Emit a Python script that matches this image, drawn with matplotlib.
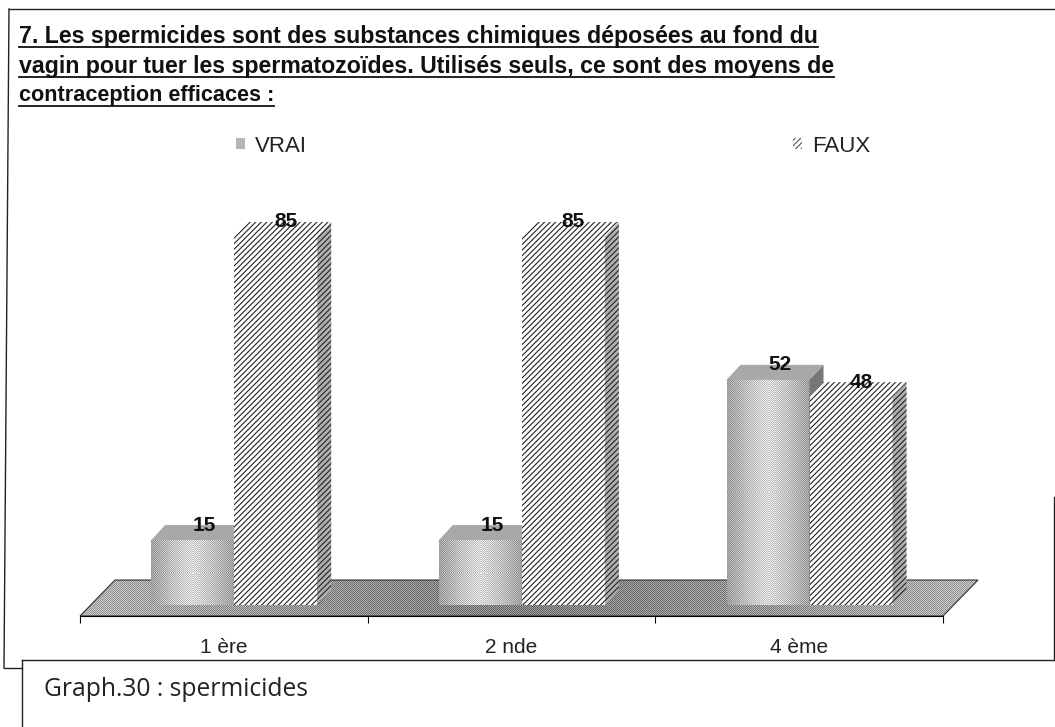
#graph 30, spermicides, fake 3d bars on a scanned page
import matplotlib
matplotlib.use("Agg")
import matplotlib.pyplot as plt
import numpy as np
from matplotlib.patches import Polygon, Patch
from matplotlib.lines import Line2D

categories = ["1 ère", "2 nde", "4 ème"]
vrai = [15, 15, 52]
faux = [85, 85, 48]
title_lines = ["7. Les spermicides sont des substances chimiques déposées au fond du",
               "vagin pour tuer les spermatozoïdes. Utilisés seuls, ce sont des moyens de",
               "contraception efficaces :"]
caption = "Graph.30 : spermicides"

W, H = 1055, 727
px_per_cat = 287.7
px_per_val = 4.33
plt.rcParams['font.family'] = ['Liberation Sans', 'DejaVu Sans']
plt.rcParams['hatch.linewidth'] = 0.8

# depth of the 3d look, converted to data units
dx = 14 / px_per_cat
dy = 15 / px_per_val
bar_w = 83 / px_per_cat
shift = 0.036


def dither(w, h, edge, centre, amp=26):
    # grey gradient between edge and centre value, with a checker pattern on top
    xs = np.linspace(-1, 1, w)
    col = centre - (centre - edge) * np.abs(xs) ** 1.3
    img = np.tile(col, (h, 1))
    yy, xx = np.mgrid[0:h, 0:w]
    checker = ((xx + yy) % 2) * 2 - 1
    return np.clip(img + amp * checker, 0, 255)


figure = plt.figure(figsize=(W / 100, H / 100), dpi=100)
y0 = 616
y1 = 170
ax = figure.add_axes([80 / W, 1 - y0 / H, 863 / W, (y0 - y1) / H])
ax.set_xlim(0, 3)
ax.set_ylim((605 - y0) / px_per_val, (605 - y1) / px_per_val)
ymin = ax.get_ylim()[0]
floor_back = 25 / px_per_val
floor_dx = 35 / px_per_cat

# floor
floor = Polygon([(0, ymin), (3, ymin), (3 + floor_dx, floor_back), (floor_dx, floor_back)],
                closed=True, facecolor='none', edgecolor='#333333', lw=0.8, clip_on=False, zorder=2)
ax.add_patch(floor)
im = ax.imshow(dither(898, 36, 178, 128, amp=30), cmap='gray', vmin=0, vmax=255, aspect='auto',
               extent=(0, 3 + floor_dx, ymin, floor_back), zorder=1, interpolation='nearest')
im.set_clip_box(figure.bbox)
im.set_clip_path(floor)

for i in range(3):
    left = i + 0.5 + shift - bar_w
    mid = i + 0.5 + shift
    right = mid + bar_w
    v = vrai[i]
    f = faux[i]
    # VRAI, front face first then top and side
    w = 82
    h = int(v * px_per_val)
    ax.imshow(dither(w, h, 160, 215), cmap='gray', vmin=0, vmax=255, aspect='auto',
              extent=(left, mid, 0, v), zorder=3, interpolation='nearest')
    ax.add_patch(Polygon([(left, v), (mid, v), (mid + dx, v + dy), (left + dx, v + dy)],
                         facecolor='#a8a8a8', edgecolor='none', hatch='.....', zorder=3))
    ax.add_patch(Polygon([(mid, 0), (mid + dx, dy), (mid + dx, v + dy), (mid, v)],
                         facecolor='#777777', edgecolor='none', zorder=3))
    # FAUX
    ax.bar(mid, f, bar_w, align='edge', facecolor='white', edgecolor='#222222', lw=0,
           hatch='//////', zorder=4)
    ax.add_patch(Polygon([(mid, f), (right, f), (right + dx, f + dy), (mid + dx, f + dy)],
                         facecolor='white', edgecolor='#222222', lw=0, hatch='//////', zorder=4))
    ax.add_patch(Polygon([(right, 0), (right + dx, dy), (right + dx, f + dy), (right, f)],
                         facecolor='#b0b0b0', edgecolor='#222222', lw=0, hatch='//////', zorder=4))
    # value labels
    ax.text((left + mid) / 2 + 0.04, v + dy, str(v), ha='center', va='center', fontsize=15,
            fontweight='bold', color='#111111', zorder=6)
    ax.text((mid + right) / 2 + 0.035, f + dy, str(f), ha='center', va='center', fontsize=15,
            fontweight='bold', color='#111111', zorder=6)

ax.set_yticks([])
for s in ['top', 'left', 'right']:
    ax.spines[s].set_visible(False)
ax.spines['bottom'].set_linewidth(0.8)
ax.spines['bottom'].set_zorder(5)
ax.set_xticks([0, 1, 2, 3])
ax.set_xticklabels([])
ax.set_xticks([0.5, 1.5, 2.5], minor=True)
ax.set_xticklabels(categories, minor=True, fontsize=15, color='#222222')
ax.tick_params(axis='x', which='major', length=5, width=0.8)
ax.tick_params(axis='x', which='minor', length=0, pad=16)

handles = [Patch(facecolor='#b5b5b5', edgecolor='none', hatch='.....'),
           Patch(facecolor='white', edgecolor='#555555', lw=0, hatch='//////')]
figure.legend(handles, ["VRAI", "FAUX"], ncol=2, frameon=False, fontsize=16, labelcolor='#222222',
              bbox_to_anchor=(553 / W, 1 - 146 / H), loc='center', columnspacing=21.85,
              handlelength=0.42, handleheight=0.42, handletextpad=0.45, borderpad=0)

# title with underlines, taken from the text extents
renderer = figure.canvas.get_renderer()
for line, yc, fs in zip(title_lines, [37, 67, 96], [16.7, 16.7, 15.6]):
    t = figure.text(19 / W, 1 - yc / H, line, fontsize=fs, fontweight='bold', color='#111111',
                    va='center', ha='left')
    bb = t.get_window_extent(renderer)
    uy = 1 - (yc + 10) / H
    figure.add_artist(Line2D([bb.x0 / W, bb.x1 / W], [uy, uy], color='#111111', lw=1.3))

figure.text(44 / W, 1 - 689 / H, caption, fontsize=17.7, color='#222222', family='Open Sans',
            va='center', ha='left')

# page frame lines, in pixels
frame = [([9, 1055], [9, 9]), ([9, 4], [9, 668]), ([4, 22], [668, 668]), ([22, 22], [660, 727]),
         ([22, 1055], [660, 660]), ([1054, 1054], [497, 660])]
for xs, ys in frame:
    figure.add_artist(Line2D(np.array(xs) / W, 1 - np.array(ys) / H, color='#222222', lw=1.0))

figure.savefig("out.png", dpi=100)
